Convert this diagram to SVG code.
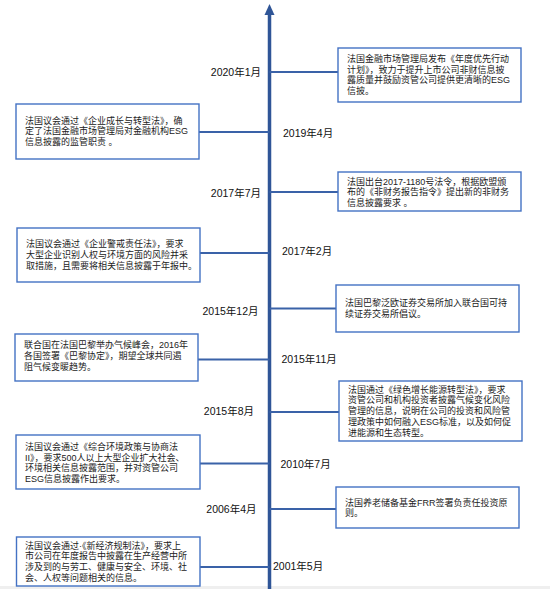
<svg xmlns="http://www.w3.org/2000/svg" width="550" height="589" viewBox="0 0 550 589">
<style>
.box{fill:#fff;stroke:#4472C4;stroke-width:1.4}
.bt{font-family:"Liberation Sans","Noto Sans CJK SC",sans-serif;font-size:9px;fill:#222}
.dt{font-family:"Liberation Sans","Noto Sans CJK SC",sans-serif;font-size:10.5px;fill:#111}
.con{stroke:#3A62A8;stroke-width:2;fill:none}
.axis{stroke:#2F5597;stroke-width:3.5;fill:none}
</style>
<rect x="0" y="586" width="550" height="3" fill="#efefef"/>
<g id="connectors">
<line class="axis" x1="269.5" y1="13" x2="269.5" y2="589"/>
<polygon points="269.5,4 274.5,15 264.5,15" fill="#2F5597"/>
<line class="con" x1="269.5" y1="72" x2="338" y2="72"/>
<line class="con" x1="199" y1="132" x2="269.5" y2="132"/>
<line class="con" x1="269.5" y1="192" x2="338" y2="192"/>
<line class="con" x1="200" y1="253" x2="269.5" y2="253"/>
<line class="con" x1="269.5" y1="308.5" x2="336" y2="308.5"/>
<line class="con" x1="198" y1="359.5" x2="269.5" y2="359.5"/>
<line class="con" x1="269.5" y1="412" x2="339" y2="412"/>
<line class="con" x1="200" y1="463.5" x2="269.5" y2="463.5"/>
<line class="con" x1="269.5" y1="509" x2="336" y2="509"/>
<line class="con" x1="200" y1="567" x2="269.5" y2="567"/>
</g>
<g id="n2020-1">
<rect class="box" x="338" y="48" width="183" height="54"/>
<text class="bt" x="347"><tspan x="347" y="61.7">法国金融市场管理局发布《年度优先行动</tspan><tspan x="347" y="72.5">计划》，致力于提升上市公司非财信息披</tspan><tspan x="347" y="83.3">露质量并鼓励资管公司提供更清晰的ESG</tspan><tspan x="347" y="94.1">信披。</tspan></text>
<text class="dt" x="261" y="75.5" text-anchor="end">2020年1月</text>
</g>
<g id="n2019-4">
<rect class="box" x="16" y="104" width="183" height="55"/>
<text class="bt"><tspan x="25" y="123.6">法国议会通过《企业成长与转型法》，确</tspan><tspan x="25" y="134.4">定了法国金融市场管理局对金融机构ESG</tspan><tspan x="25" y="145.2">信息披露的监管职责 。</tspan></text>
<text class="dt" x="283" y="137">2019年4月</text>
</g>
<g id="n2017-7">
<rect class="box" x="338" y="172" width="183" height="39"/>
<text class="bt"><tspan x="347" y="184.5">法国出台2017-1180号法令，根据欧盟颁</tspan><tspan x="347" y="195.3">布的《非财务报告指令》提出新的非财务</tspan><tspan x="347" y="206.1">信息披露要求 。</tspan></text>
<text class="dt" x="261" y="197" text-anchor="end">2017年7月</text>
</g>
<g id="n2017-2">
<rect class="box" x="17" y="228" width="183" height="54"/>
<text class="bt"><tspan x="26" y="247.4">法国议会通过《企业警戒责任法》，要求</tspan><tspan x="26" y="258.2">大型企业识别人权与环境方面的风险并采</tspan><tspan x="26" y="269">取措施，且需要将相关信息披露于年报中。</tspan></text>
<text class="dt" x="282" y="255">2017年2月</text>
</g>
<g id="n2015-12">
<rect class="box" x="336" y="285" width="183" height="47"/>
<text class="bt"><tspan x="345" y="306.3">法国巴黎泛欧证券交易所加入联合国可持</tspan><tspan x="345" y="317.1">续证券交易所倡议。</tspan></text>
<text class="dt" x="258.5" y="314.5" text-anchor="end">2015年12月</text>
</g>
<g id="n2015-11">
<rect class="box" x="15" y="334" width="183" height="47"/>
<text class="bt"><tspan x="24" y="348.4">联合国在法国巴黎举办气候峰会，2016年</tspan><tspan x="24" y="359.2">各国签署《巴黎协定》，期望全球共同遏</tspan><tspan x="24" y="370">阻气候变暖趋势。</tspan></text>
<text class="dt" x="281.5" y="363.3">2015年11月</text>
</g>
<g id="n2015-8">
<rect class="box" x="339" y="381" width="183" height="60"/>
<text class="bt"><tspan x="348" y="392.6">法国通过《绿色增长能源转型法》，要求</tspan><tspan x="348" y="403.4">资管公司和机构投资者披露气候变化风险</tspan><tspan x="348" y="414.2">管理的信息，说明在公司的投资和风险管</tspan><tspan x="348" y="425">理政策中如何融入ESG标准，以及如何促</tspan><tspan x="348" y="435.8">进能源和生态转型。</tspan></text>
<text class="dt" x="254" y="414.7" text-anchor="end">2015年8月</text>
</g>
<g id="n2010-7">
<rect class="box" x="16" y="435" width="184" height="54"/>
<text class="bt"><tspan x="25" y="449.8">法国议会通过《综合环境政策与协商法</tspan><tspan x="25" y="460.6">II》，要求500人以上大型企业扩大社会、</tspan><tspan x="25" y="471.4">环境相关信息披露范围，并对资管公司</tspan><tspan x="25" y="482.2">ESG信息披露作出要求。</tspan></text>
<text class="dt" x="280.5" y="468">2010年7月</text>
</g>
<g id="n2006-4">
<rect class="box" x="336" y="487" width="183" height="41"/>
<text class="bt"><tspan x="345" y="505.5">法国养老储备基金FRR签署负责任投资原</tspan><tspan x="345" y="516.3">则。</tspan></text>
<text class="dt" x="256.5" y="513" text-anchor="end">2006年4月</text>
</g>
<g id="n2001-5">
<rect class="box" x="16.5" y="537" width="183.5" height="49"/>
<text class="bt"><tspan x="25" y="548.8">法国议会通过·《新经济规制法》，要求上</tspan><tspan x="25" y="559.4">市公司在年度报告中披露在生产经营中所</tspan><tspan x="25" y="570">涉及到的与劳工、健康与安全、环境、社</tspan><tspan x="25" y="580.6">会、人权等问题相关的信息。</tspan></text>
<text class="dt" x="273" y="570">2001年5月</text>
</g>
</svg>
